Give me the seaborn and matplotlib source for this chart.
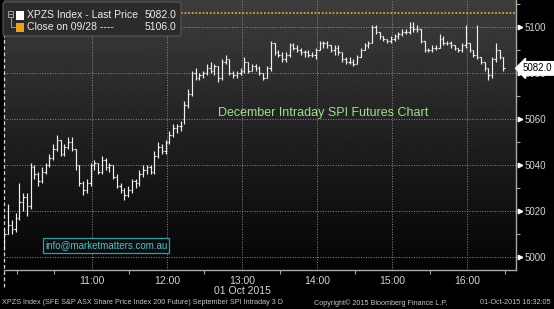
import numpy as np
import pandas as pd
import matplotlib
matplotlib.use("Agg")
import matplotlib.pyplot as plt
import matplotlib.transforms as mtransforms
from matplotlib.patches import FancyBboxPatch, Rectangle
from matplotlib.lines import Line2D
import seaborn as sns

# ---------------- data (3-minute OHLC bars, 01 Oct 2015) ----------------
opens = [5005, 5010, 5014, 5012, 5017, 5024, 5026, 5022, 5039, 5036,
         5033, 5037, 5040, 5043, 5047, 5051, 5045, 5048, 5050, 5047,
         5040, 5032, 5029, 5032, 5040, 5041, 5037, 5042, 5039, 5040,
         5035, 5031, 5029, 5027, 5029, 5033, 5032, 5036, 5038, 5039,
         5037, 5044, 5048, 5046, 5050, 5053, 5056, 5057, 5060, 5066,
         5071, 5080, 5078, 5079, 5080, 5082, 5081, 5083, 5078, 5085,
         5086, 5080, 5079, 5080, 5081, 5085, 5081, 5083, 5082, 5080,
         5078, 5082, 5093, 5089, 5088, 5086, 5088, 5092, 5091, 5090,
         5089, 5089, 5088, 5088, 5090, 5093, 5093, 5092, 5090, 5091,
         5089, 5086, 5085, 5085, 5084, 5087, 5090, 5092, 5093, 5100,
         5098, 5096, 5095, 5094, 5095, 5096, 5097, 5098, 5098, 5100,
         5099, 5099, 5094, 5090, 5090, 5091, 5091, 5095, 5093, 5093,
         5092, 5091, 5090, 5092, 5093, 5090, 5088, 5087, 5085, 5082,
         5079, 5086, 5090, 5087]
highs = [5012, 5023, 5016, 5019, 5032, 5028, 5028, 5041, 5040, 5037,
         5039, 5041, 5045, 5049, 5053, 5051, 5049, 5052, 5052, 5047,
         5040, 5033, 5034, 5041, 5042, 5041, 5044, 5043, 5041, 5040,
         5036, 5032, 5030, 5031, 5034, 5034, 5038, 5040, 5040, 5040,
         5046, 5050, 5049, 5051, 5055, 5058, 5058, 5059, 5068, 5073,
         5081, 5082, 5080, 5081, 5084, 5085, 5084, 5083, 5086, 5088,
         5086, 5081, 5081, 5082, 5087, 5085, 5084, 5084, 5083, 5080,
         5083, 5094, 5093, 5090, 5089, 5089, 5093, 5093, 5092, 5091,
         5090, 5090, 5089, 5091, 5094, 5094, 5094, 5092, 5092, 5092,
         5089, 5087, 5087, 5086, 5088, 5091, 5093, 5094, 5101, 5101,
         5098, 5096, 5095, 5096, 5097, 5098, 5099, 5099, 5102, 5102,
         5101, 5099, 5094, 5091, 5092, 5092, 5097, 5096, 5094, 5094,
         5092, 5091, 5093, 5101, 5093, 5090, 5101, 5087, 5085, 5082,
         5087, 5093, 5090, 5087]
lows = [5003, 5010, 5010, 5011, 5016, 5020, 5018, 5021, 5034, 5031,
        5032, 5036, 5039, 5042, 5046, 5044, 5044, 5047, 5046, 5038,
        5031, 5027, 5028, 5031, 5038, 5036, 5036, 5038, 5037, 5034,
        5030, 5028, 5025, 5026, 5028, 5030, 5031, 5035, 5036, 5036,
        5036, 5043, 5045, 5045, 5049, 5052, 5054, 5055, 5058, 5065,
        5070, 5077, 5077, 5078, 5079, 5080, 5079, 5076, 5077, 5084,
        5079, 5078, 5078, 5079, 5080, 5080, 5081, 5081, 5079, 5077,
        5078, 5081, 5088, 5087, 5085, 5085, 5087, 5090, 5089, 5088,
        5087, 5087, 5087, 5086, 5090, 5091, 5091, 5089, 5088, 5088,
        5085, 5084, 5084, 5083, 5084, 5087, 5090, 5091, 5093, 5097,
        5095, 5094, 5093, 5093, 5094, 5095, 5096, 5097, 5097, 5098,
        5098, 5093, 5089, 5089, 5089, 5090, 5091, 5092, 5092, 5091,
        5090, 5089, 5089, 5091, 5089, 5087, 5086, 5084, 5081, 5077,
        5078, 5085, 5086, 5081]
closes = [5010, 5014, 5012, 5017, 5024, 5026, 5022, 5039, 5036, 5033,
          5037, 5040, 5043, 5047, 5051, 5045, 5048, 5050, 5047, 5040,
          5032, 5029, 5032, 5040, 5041, 5037, 5042, 5039, 5040, 5035,
          5031, 5029, 5027, 5029, 5033, 5032, 5036, 5038, 5039, 5037,
          5044, 5048, 5046, 5050, 5053, 5056, 5057, 5057, 5066, 5071,
          5080, 5078, 5079, 5080, 5082, 5081, 5083, 5078, 5085, 5086,
          5080, 5079, 5080, 5081, 5085, 5081, 5083, 5082, 5080, 5078,
          5082, 5093, 5089, 5088, 5086, 5088, 5092, 5091, 5090, 5089,
          5089, 5088, 5088, 5090, 5093, 5093, 5092, 5090, 5091, 5089,
          5086, 5085, 5085, 5084, 5087, 5090, 5092, 5093, 5100, 5098,
          5096, 5095, 5094, 5095, 5096, 5097, 5098, 5098, 5100, 5099,
          5099, 5094, 5090, 5090, 5091, 5091, 5095, 5093, 5093, 5092,
          5091, 5090, 5092, 5093, 5090, 5088, 5087, 5085, 5082, 5079,
          5086, 5090, 5087, 5082]
prev_close = 5106.0
last_price = 5082.0
hour_ticks = [11, 12, 13, 14, 15, 16]
hour_labels = ["11:00", "12:00", "13:00", "14:00", "15:00", "16:00"]
price_ticks = [5000, 5020, 5040, 5060, 5080, 5100]

times = pd.date_range("2015-10-01 09:50", periods=len(closes), freq="3min")
df = pd.DataFrame({"t": times.hour + times.minute / 60.0,
                   "open": opens, "high": highs, "low": lows, "close": closes})

# ---------------- style ----------------
sns.set_theme(style="dark", rc={"figure.facecolor": "black",
                                "axes.facecolor": "black",
                                "savefig.facecolor": "black"})
plt.rcParams["font.family"] = ["Liberation Sans", "DejaVu Sans"]

W, H = 554, 309
fig = plt.figure(figsize=(W / 100, H / 100), dpi=100)
fig.patch.set_facecolor("black")
ax = fig.add_axes([4 / W, 1 - 270 / H, 512 / W, 270 / H])
ax.set_facecolor("black")


def fx(x):
    return x / W


def fy(y):
    return 1 - y / H


# gradient background
grad = np.linspace(0.24, 0.015, 256).reshape(-1, 1)
ax.imshow(grad, extent=[0, 1, 0, 1], transform=ax.transAxes, cmap="gray",
          vmin=0, vmax=1, aspect="auto", zorder=0, interpolation="bilinear")

ax.set_xlim(9.8267, 16.6533)
ax.set_ylim(4994.35, 5111.74)

# grid
for h in hour_ticks:
    ax.axvline(h, color="#8c8c8c", lw=0.7, ls=(0, (1, 1.6)), zorder=1)
for p in price_ticks:
    ax.axhline(p, color="#8c8c8c", lw=0.7, ls=(0, (1, 1.6)), zorder=1)

# day separator
ax.axvline(9.8267 + 0.004, ymin=-0.063, ymax=1, color="#d8d8d8", lw=0.9,
           ls=(0, (3, 2)), clip_on=False, zorder=2)

# previous close line
ax.axhline(prev_close, color="#e0a030", lw=1.3, ls=(0, (1, 1)), zorder=2)

# OHLC bars
tw = 0.019
bar_col = "#f0f0f0"
ax.vlines(df["t"], df["low"], df["high"], color=bar_col, lw=0.85, zorder=3)
ax.hlines(df["open"], df["t"] - tw, df["t"], color=bar_col, lw=0.85, zorder=3)
ax.hlines(df["close"], df["t"], df["t"] + tw, color=bar_col, lw=0.85, zorder=3)

# spines
for s in ["top", "left"]:
    ax.spines[s].set_visible(False)
for s in ["bottom", "right"]:
    ax.spines[s].set_visible(True)
    ax.spines[s].set_color("#a8a8a8")
    ax.spines[s].set_linewidth(1.0)
ax.grid(False)

# x ticks
ax.set_xticks(hour_ticks)
ax.set_xticklabels(hour_labels)
ax.set_xticks([10, 10.5, 11.5, 12.5, 13.5, 14.5, 15.5, 16.5], minor=True)
ax.tick_params(axis="x", which="major", length=0, pad=4.5, labelsize=7.5,
               labelcolor="#d4d4d4")
ax.tick_params(axis="x", which="minor", length=3, width=0.8, color="#a8a8a8",
               direction="out", bottom=True)

# y ticks on right
ax.yaxis.tick_right()
ax.set_yticks(price_ticks)
ax.set_yticklabels([str(p) for p in price_ticks])
ax.set_yticks([5010, 5030, 5050, 5070, 5090, 5110], minor=True)
ax.tick_params(axis="y", which="major", length=0, pad=6.0, labelsize=7,
               labelcolor="#d4d4d4")
ax.tick_params(axis="y", which="minor", length=3, width=0.8, color="#a8a8a8",
               direction="out")
ax.tick_params(axis="y", which="both", left=False, right=True)

trans_y = mtransforms.blended_transform_factory(ax.transAxes, ax.transData)
ax.plot([1.0085] * len(price_ticks), price_ticks, ls="none", marker=">",
        ms=3.2, color="white", mec="white", transform=trans_y, clip_on=False,
        zorder=5)

# last price tag
ax.text(1.013, last_price, "5082.0", transform=trans_y, ha="left",
        va="center", fontsize=7, color="black", zorder=6, clip_on=False,
        bbox=dict(boxstyle="larrow,pad=0.18", fc="white", ec="white"))

# chart captions
fig.text(fx(323), fy(113), "December Intraday SPI Futures Chart",
         ha="center", va="center", fontsize=9, color="#9ee08f", zorder=4)
fig.text(fx(106), fy(245.5), "info@marketmatters.com.au",
         ha="center", va="center", fontsize=7, color="#3cc8d0", zorder=4,
         bbox=dict(boxstyle="square,pad=0.22", fc="#0c0c0c", ec="#2aa0a0",
                   lw=0.9))

# legend box
fig.patches.append(FancyBboxPatch((fx(3), fy(36)), fx(178), 34 / H,
                                  boxstyle="round,pad=0,rounding_size=0.006",
                                  fc="#2b2b2b", ec="#575757", lw=0.8,
                                  transform=fig.transFigure, figure=fig,
                                  zorder=3))
fig.patches.append(Rectangle((fx(16), fy(19.5)), fx(7.5), 9 / H, fc="white",
                             ec="none", transform=fig.transFigure, figure=fig,
                             zorder=4))
fig.patches.append(Rectangle((fx(16), fy(31.5)), fx(7.5), 9 / H, fc="#f0a010",
                             ec="none", transform=fig.transFigure, figure=fig,
                             zorder=4))
# tree icon
fig.patches.append(Rectangle((fx(8), fy(16.5)), fx(5), 5 / H, fc="none",
                             ec="#b0b0b0", lw=0.6, transform=fig.transFigure,
                             figure=fig, zorder=4))
fig.lines.append(Line2D([fx(9), fx(12)], [fy(14), fy(14)], color="#b0b0b0",
                        lw=0.6, transform=fig.transFigure, figure=fig, zorder=4))
fig.lines.append(Line2D([fx(10.5), fx(10.5), fx(15)],
                        [fy(16.5), fy(27), fy(27)], color="#b0b0b0", lw=0.6,
                        transform=fig.transFigure, figure=fig, zorder=4))

fig.text(fx(27), fy(15), "XPZS Index - Last Price", ha="left", va="center",
         fontsize=7.5, color="#ececec", zorder=5)
fig.text(fx(176), fy(15), "5082.0", ha="right", va="center", fontsize=7.5,
         color="#ececec", zorder=5)
fig.text(fx(27), fy(27), "Close on 09/28 ----", ha="left", va="center",
         fontsize=7.5, color="#ececec", zorder=5)
fig.text(fx(176), fy(27), "5106.0", ha="right", va="center", fontsize=7.5,
         color="#ececec", zorder=5)

# date label and footer
fig.text(fx(242), fy(291), "01 Oct 2015", ha="center", va="center",
         fontsize=7.5, color="#d4d4d4")
fig.text(fx(2), fy(303), "XPZS Index (SFE S&P ASX Share Price Index 200 Future)"
         " September SPI Intraday 3 D", ha="left", va="center", fontsize=5.2,
         color="#c4c4c4")
fig.text(fx(314), fy(303), "Copyright\u00a9 2015 Bloomberg Finance L.P.",
         ha="left", va="center", fontsize=5.2, color="#c4c4c4")
fig.text(fx(551), fy(303), "01-Oct-2015 16:32:05", ha="right", va="center",
         fontsize=5.2, color="#c4c4c4")

fig.savefig("out.png", dpi=100, facecolor="black")
